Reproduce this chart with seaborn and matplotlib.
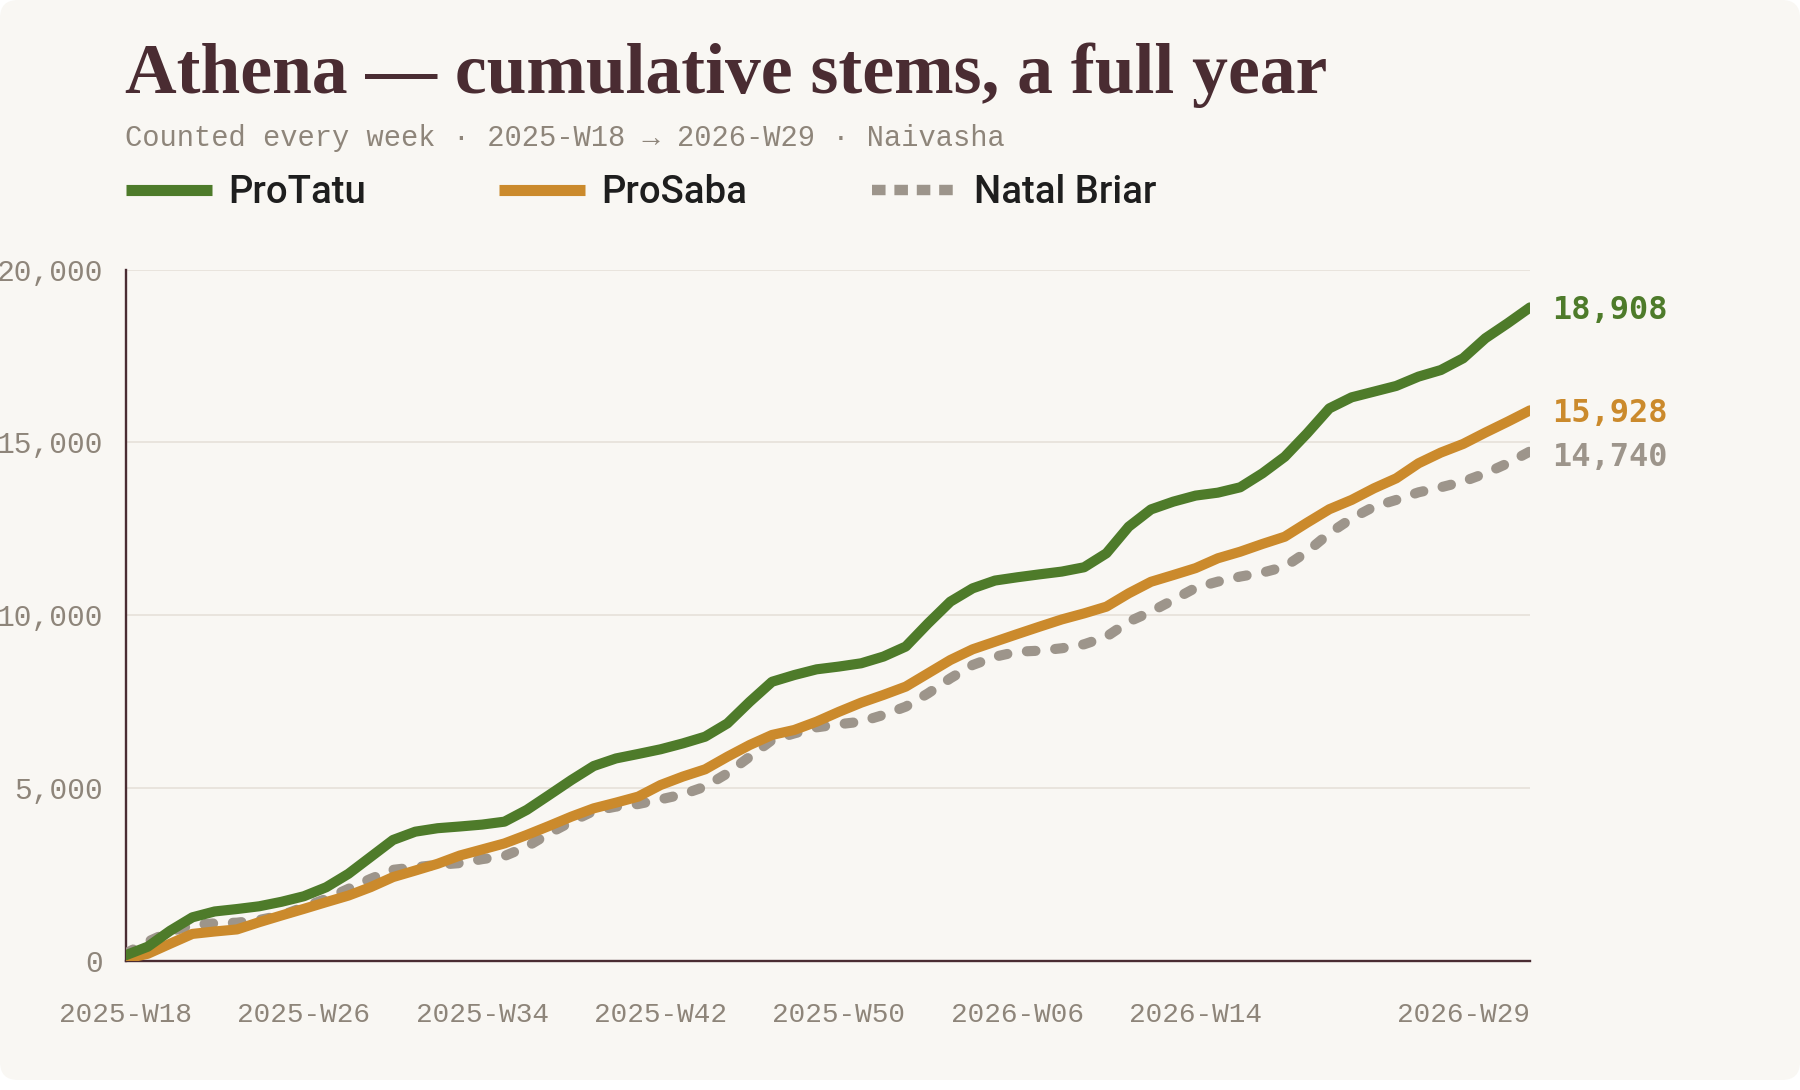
import numpy as np
import pandas as pd
import matplotlib
matplotlib.use('Agg')
import matplotlib.pyplot as plt
from matplotlib.lines import Line2D
from matplotlib.patches import FancyBboxPatch
import seaborn as sns

# ---- data (cumulative stems, read per week) ----
series_names = ['ProTatu', 'ProSaba', 'Natal Briar']
protatu = [150, 400, 860, 1250, 1420, 1490, 1570, 1700, 1860, 2120, 2510, 3000, 3490, 3730, 3830, 3880, 3935,
           4020, 4360, 4790, 5225, 5630, 5850, 5980, 6115, 6285, 6480, 6865, 7490, 8070, 8265, 8430, 8510,
           8605, 8800, 9090, 9760, 10390, 10775, 11000, 11095, 11180, 11260, 11385, 11790, 12560, 13060, 13285, 13460,
           13545, 13700, 14105, 14585, 15260, 15985, 16305, 16470, 16635, 16905, 17095, 17435, 18015, 18450, 18908]
prosaba = [50, 195, 485, 770, 840, 900, 1110, 1305, 1495, 1690, 1880, 2125, 2415, 2605, 2800, 3040, 3215,
           3390, 3635, 3895, 4165, 4405, 4570, 4745, 5080, 5325, 5535, 5900, 6240, 6530, 6675, 6915, 7200,
           7465, 7690, 7930, 8315, 8700, 9010, 9230, 9450, 9665, 9875, 10050, 10245, 10630, 10965, 11160, 11360,
           11645, 11835, 12060, 12270, 12675, 13065, 13335, 13670, 13960, 14395, 14705, 14955, 15285, 15600, 15928]
natal = [200, 545, 835, 1030, 1075, 1095, 1175, 1305, 1545, 1785, 2075, 2365, 2625, 2700, 2770, 2820, 2935,
         3025, 3295, 3680, 4020, 4330, 4455, 4530, 4665, 4810, 5035, 5420, 5900, 6385, 6575, 6750, 6840,
         6915, 7110, 7350, 7735, 8170, 8555, 8795, 8940, 8970, 9040, 9155, 9375, 9810, 10100, 10440, 10790,
         10970, 11115, 11230, 11400, 11835, 12370, 12800, 13140, 13335, 13555, 13700, 13865, 14105, 14395, 14740]
week_idx = np.arange(len(protatu))   # 0 = 2025-W18 ... 63 = 2026-W29
tick_pos = [0, 8, 16, 24, 32, 40, 48, 63]
tick_labels = ['2025-W18', '2025-W26', '2025-W34', '2025-W42', '2025-W50', '2026-W06', '2026-W14', '2026-W29']
y_ticks = [0, 5000, 10000, 15000, 20000]

BG = '#F9F7F3'
GREEN = '#4E7B2A'
ORANGE = '#CB8A2C'
GRAY = '#9D958B'
INK = '#4A2C32'
MUTED = '#8E857A'

sns.set_theme(style='white')
plt.rcParams['font.family'] = ['DejaVu Sans']

fig = plt.figure(figsize=(18, 10.9), dpi=100, facecolor='white')
card = FancyBboxPatch((0, 10), 1800, 1080, boxstyle='round,pad=0,rounding_size=18',
                      transform=None, facecolor=BG, edgecolor='none', zorder=-10)
fig.add_artist(card)

ax = fig.add_axes([125.5 / 1800, 129.5 / 1090, 1404.5 / 1800, 690.8 / 1090])
ax.set_facecolor('none')

df = pd.DataFrame({'week': week_idx, 'ProTatu': protatu, 'ProSaba': prosaba, 'Natal Briar': natal})
sns.lineplot(data=df, x='week', y='Natal Briar', ax=ax, color=GRAY, lw=7.3,
             linestyle=(0, (0.85, 1.95)), dash_capstyle='round', zorder=3)
sns.lineplot(data=df, x='week', y='ProSaba', ax=ax, color=ORANGE, lw=7.3,
             solid_capstyle='round', zorder=4)
sns.lineplot(data=df, x='week', y='ProTatu', ax=ax, color=GREEN, lw=7.3,
             solid_capstyle='round', zorder=5)

ax.set_xlim(week_idx[0], week_idx[-1])
ax.set_ylim(0, 20000)
ax.set_xlabel('')
ax.set_ylabel('')
ax.set_yticks(y_ticks)
ax.set_yticklabels([f'{v:,}' for v in y_ticks])
ax.set_xticks(tick_pos)
ax.set_xticklabels(tick_labels)
ax.get_xticklabels()[-1].set_ha('right')
ax.tick_params(axis='both', length=0, labelcolor=MUTED)
ax.tick_params(axis='y', pad=16, labelsize=21.3)
ax.tick_params(axis='x', pad=30, labelsize=20)
for lab in ax.get_xticklabels() + ax.get_yticklabels():
    lab.set_family('Liberation Mono')
ax.yaxis.grid(True, color='#E6E1D9', lw=1.2)
ax.xaxis.grid(False)
for s in ['top', 'right']:
    ax.spines[s].set_visible(False)
for s in ['left', 'bottom']:
    ax.spines[s].set_color(INK)
    ax.spines[s].set_linewidth(1.7)
ax.spines['left'].set_zorder(1)

# end-of-line values
for vals, col, dy in [(protatu, GREEN, 0), (prosaba, ORANGE, 0), (natal, GRAY, -2)]:
    ax.annotate(f'{vals[-1]:,}', xy=(week_idx[-1], vals[-1]), xytext=(16, dy),
                textcoords='offset points', ha='left', va='center_baseline', color=col,
                fontsize=23, fontweight='bold', family='DejaVu Sans Mono',
                annotation_clip=False)

# title / subtitle
fig.text(125 / 1800, 1 - 93 / 1090, 'Athena \u2014 cumulative stems, a full year',
         family='Liberation Serif', fontweight='bold', fontsize=51.5, color=INK,
         ha='left', va='baseline')
fig.text(125 / 1800, 1 - 138 / 1090,
         'Counted every week \u00b7 2025-W18 \u2192 2026-W29 \u00b7 Naivasha',
         family=['Liberation Mono', 'DejaVu Sans Mono'], fontsize=20.7, color=MUTED,
         ha='left', va='center')

# legend, one entry per fixed slot
handles = [
    Line2D([], [], color=GREEN, lw=8, solid_capstyle='butt'),
    Line2D([], [], color=ORANGE, lw=8, solid_capstyle='butt'),
    Line2D([], [], color=GRAY, lw=7.5, linestyle=(0, (1.3, 0.85)), dash_capstyle='butt'),
]
slots = [126, 499, 872]
for h, name, xs in zip(handles, series_names, slots):
    fig.legend(handles=[h], labels=[name], loc='center left',
               bbox_to_anchor=(xs / 1800, 1 - 192.5 / 1090), frameon=False,
               borderpad=0, borderaxespad=0, handlelength=2.25, handletextpad=0.42,
               prop={'family': 'Roboto', 'size': 27.5, 'weight': 'medium'},
               labelcolor='#1E1E1E')

fig.savefig('out.png', dpi=100, facecolor='white')
